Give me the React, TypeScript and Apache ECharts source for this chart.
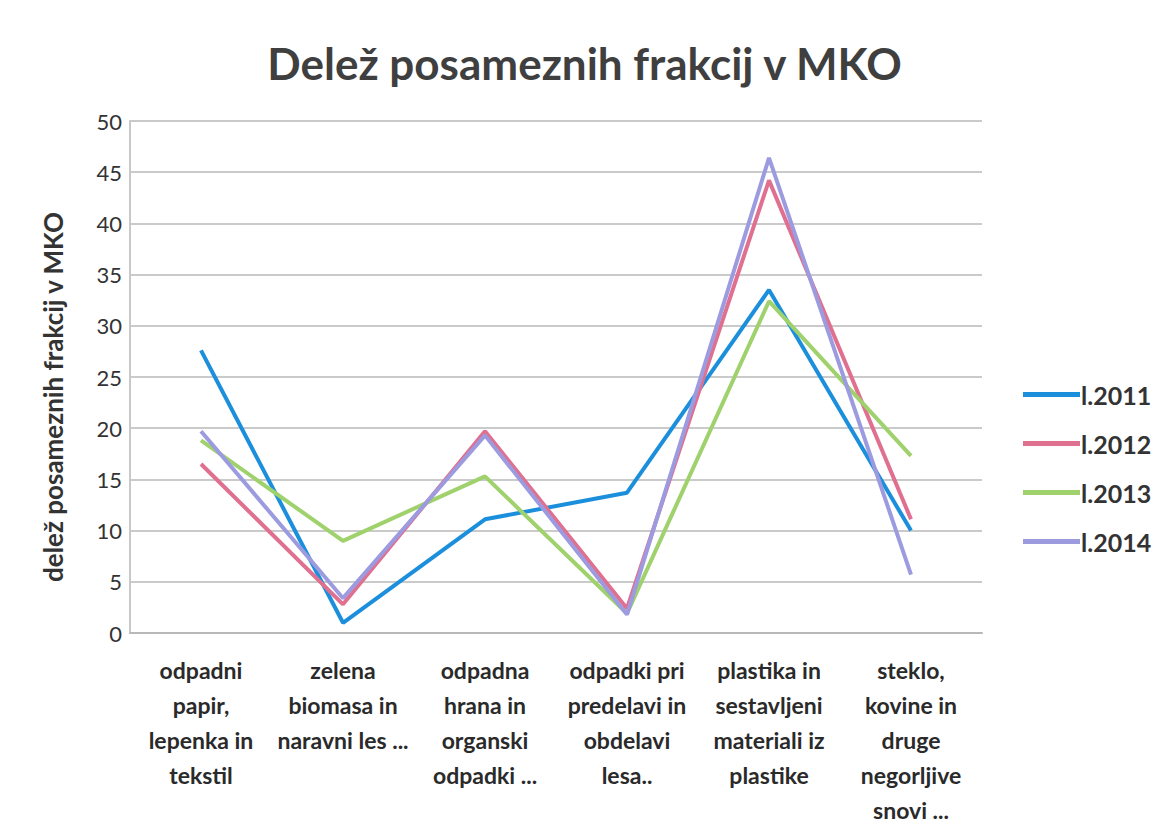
import React, { useEffect, useRef } from "react";
import * as echarts from "echarts";

const categories = [
  "odpadni\npapir,\nlepenka in\ntekstil",
  "zelena\nbiomasa in\nnaravni les ...",
  "odpadna\nhrana in\norganski\nodpadki ...",
  "odpadki pri\npredelavi in\nobdelavi\nlesa..",
  "plastika in\nsestavljeni\nmateriali iz\nplastike",
  "steklo,\nkovine in\ndruge\nnegorljive\nsnovi ...",
];
const seriesNames = ["l.2011", "l.2012", "l.2013", "l.2014"];
const v2011 = [27.6, 1.0, 11.1, 13.7, 33.5, 10.0];
const v2012 = [16.5, 2.8, 19.7, 2.4, 44.2, 11.1];
const v2013 = [18.8, 9.0, 15.3, 1.9, 32.4, 17.3];
const v2014 = [19.7, 3.4, 19.3, 1.8, 46.4, 5.7];
const yTicks = { min: 0, max: 50, interval: 5 };
const colors = ["#1c8fdc", "#e0708f", "#9fd16c", "#9c9be0"];

const FONT = "Lato, 'Open Sans', sans-serif";

export default function App() {
  const ref = useRef<HTMLDivElement>(null);
  useEffect(() => {
    if (!ref.current) return;
    const chart = echarts.init(ref.current, undefined, { renderer: "svg" });
    const values = [v2011, v2012, v2013, v2014];
    chart.setOption({
      animation: false,
      backgroundColor: "#ffffff",
      title: {
        text: "Delež posameznih frakcij v MKO",
        left: "center",
        top: 28,
        textStyle: { fontFamily: FONT, fontSize: 44, fontWeight: "bold", color: "#3f3f3f" },
      },
      legend: {
        orient: "vertical",
        left: 1010,
        top: 369,
        itemGap: 24,
        itemWidth: 57,
        itemHeight: 5,
        icon: "rect",
        data: seriesNames,
        textStyle: { fontFamily: FONT, fontSize: 25, fontWeight: "bold", color: "#333", padding: [0, 0, 0, -4] },
      },
      grid: { left: 122, top: 113, width: 852, height: 522, containLabel: false },
      xAxis: {
        type: "category",
        data: categories,
        boundaryGap: true,
        axisLine: { show: true, lineStyle: { color: "#b8b8b8", width: 2 } },
        axisTick: { show: false },
        axisLabel: {
          interval: 0,
          margin: 19,
          fontFamily: FONT,
          fontSize: 23,
          fontWeight: "bold",
          lineHeight: 35,
          color: "#2a2a2a",
        },
      },
      yAxis: {
        type: "value",
        min: yTicks.min,
        max: yTicks.max,
        interval: yTicks.interval,
        name: "delež posameznih frakcij v MKO",
        nameLocation: "middle",
        nameGap: 64,
        nameTextStyle: {
          fontFamily: FONT,
          fontSize: 26,
          fontWeight: "bold",
          color: "#333",
          padding: [0, 40, 0, 0],
        },
        axisLine: { show: true, lineStyle: { color: "#c8c8c8", width: 2 } },
        axisTick: { show: false },
        axisLabel: { fontFamily: FONT, fontSize: 22, color: "#333", margin: 8 },
        splitLine: { show: true, lineStyle: { color: "#b8b8b8", width: 1.5 } },
      },
      series: seriesNames.map((name, i) => ({
        name,
        type: "line",
        data: values[i],
        symbol: "none",
        color: colors[i],
        lineStyle: { width: 4, color: colors[i] },
      })),
    });
    return () => chart.dispose();
  }, []);
  return <div ref={ref} style={{ width: 1153, height: 819 }} />;
}
